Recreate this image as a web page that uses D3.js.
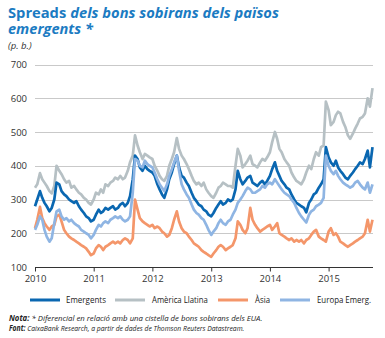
<!DOCTYPE html>
<html><head><meta charset="utf-8">
<script src="https://cdn.jsdelivr.net/npm/d3@7"></script>
<style>body{margin:0;background:#fff}svg{display:block}</style>
</head><body>
<svg id="c" width="385" height="338"></svg>
<script>
const dates = [
"2010-01-01","2010-01-15","2010-02-01","2010-02-15","2010-03-01","2010-03-15","2010-04-01","2010-04-15","2010-05-01","2010-05-15","2010-06-01","2010-06-15","2010-07-01","2010-07-15","2010-08-01","2010-08-15","2010-09-01","2010-09-15","2010-10-01","2010-10-15","2010-11-01","2010-11-15","2010-12-01","2010-12-15",
"2011-01-01","2011-01-15","2011-02-01","2011-02-15","2011-03-01","2011-03-15","2011-04-01","2011-04-15","2011-05-01","2011-05-15","2011-06-01","2011-06-15","2011-07-01","2011-07-15","2011-08-01","2011-08-15","2011-09-01","2011-09-15","2011-10-01","2011-10-15","2011-11-01","2011-11-15","2011-12-01","2011-12-15",
"2012-01-01","2012-01-15","2012-02-01","2012-02-15","2012-03-01","2012-03-15","2012-04-01","2012-04-15","2012-05-01","2012-05-15","2012-06-01","2012-06-15","2012-07-01","2012-07-15","2012-08-01","2012-08-15","2012-09-01","2012-09-15","2012-10-01","2012-10-15","2012-11-01","2012-11-15","2012-12-01","2012-12-15",
"2013-01-01","2013-01-15","2013-02-01","2013-02-15","2013-03-01","2013-03-15","2013-04-01","2013-04-15","2013-05-01","2013-05-15","2013-06-01","2013-06-15","2013-07-01","2013-07-15","2013-08-01","2013-08-15","2013-09-01","2013-09-15","2013-10-01","2013-10-15","2013-11-01","2013-11-15","2013-12-01","2013-12-15",
"2014-01-01","2014-01-15","2014-02-01","2014-02-15","2014-03-01","2014-03-15","2014-04-01","2014-04-15","2014-05-01","2014-05-15","2014-06-01","2014-06-15","2014-07-01","2014-07-15","2014-08-01","2014-08-15","2014-09-01","2014-09-15","2014-10-01","2014-10-15","2014-11-01","2014-11-15","2014-12-01","2014-12-15",
"2015-01-01","2015-01-15","2015-02-01","2015-02-15","2015-03-01","2015-03-15","2015-04-01","2015-04-15","2015-05-01","2015-05-15","2015-06-01","2015-06-15","2015-07-01","2015-07-15","2015-08-01","2015-08-15","2015-09-01","2015-09-15","2015-10-01"
];

const emergents = [
280,300, 325,305, 290,280, 265,275, 300,350, 345,325, 315,310, 300,295, 290,295, 280,270, 260,250, 245,235,
240,255, 270,260, 265,275, 270,275, 280,270, 275,285, 290,280, 290,310, 360,430, 420,395, 385,400, 390,385,
380,370, 345,330, 315,305, 330,360, 380,405, 430,395, 370,365, 350,340, 320,305, 295,285, 280,270, 265,255,
250,260, 275,285, 295,285, 290,300, 295,300, 330,385, 360,345, 355,365, 370,350, 345,340, 350,355, 345,355,
370,390, 410,385, 370,355, 345,335, 330,315, 300,290, 285,280, 275,262, 290,300, 315,320, 335,345, 360,455,
425,410, 400,415, 395,385, 375,365, 360,370, 380,390, 400,410, 405,420, 445,395, 455
];

const americaLlatina = [
335,345, 378,360, 350,340, 325,318, 340,400, 385,375, 360,350, 355,335, 340,330, 320,315, 305,300, 290,285,
300,320, 315,330, 320,345, 340,350, 355,365, 360,370, 360,365, 385,410, 430,490, 460,440, 420,435, 430,425,
420,400, 385,370, 360,355, 370,400, 420,440, 482,450, 430,420, 405,390, 370,355, 345,350, 340,350, 330,320,
310,305, 320,335, 340,350, 345,340, 340,335, 400,450, 430,395, 405,415, 430,405, 400,395, 410,420, 415,425,
440,470, 500,480, 450,440, 420,410, 400,380, 365,355, 350,345, 360,380, 400,390, 420,440, 430,455, 460,590,
565,520, 530,550, 560,555, 530,515, 490,480, 495,510, 525,540, 545,555, 600,575, 630
];

const asia = [
215,240, 278,245, 230,220, 210,220, 225,250, 255,235, 210,200, 190,185, 180,175, 170,165, 160,155, 145,135,
140,155, 165,160, 150,160, 165,170, 175,170, 175,170, 180,185, 180,170, 185,300, 270,245, 235,230, 225,220,
225,215, 220,215, 205,200, 190,195, 215,240, 265,235, 215,205, 200,190, 180,170, 165,160, 150,145, 140,135,
130,140, 150,160, 165,160, 150,155, 160,165, 185,235, 225,210, 200,215, 275,240, 225,215, 205,210, 215,220,
225,210, 220,230, 200,195, 190,185, 180,185, 175,180, 175,180, 170,180, 185,195, 205,210, 190,185, 180,175,
205,215, 195,200, 190,175, 170,165, 160,165, 170,175, 180,185, 190,200, 240,205, 240
];

const europaEmerg = [
210,225, 250,240, 210,190, 175,185, 230,265, 270,250, 240,245, 235,240, 230,225, 220,210, 205,200, 195,185,
195,210, 225,220, 230,235, 230,240, 245,250, 245,250, 240,235, 240,250, 320,420, 415,400, 395,415, 405,400,
395,380, 360,345, 335,325, 345,370, 390,410, 430,385, 345,330, 315,305, 285,270, 260,255, 245,240, 225,210,
195,205, 215,230, 240,230, 225,235, 240,255, 270,290, 300,310, 325,335, 330,320, 320,325, 330,340, 335,345,
350,345, 360,350, 340,330, 320,315, 310,300, 290,275, 260,250, 240,232, 255,265, 270,280, 285,290, 305,430,
400,385, 375,385, 370,360, 350,345, 340,335, 340,350, 355,345, 335,330, 350,320, 345
];

const seriesNames = ["Emergents","Amèrica Llatina","Àsia","Europa Emerg."];
const seriesColors = ["#0a67b1","#b6c0c4","#f4966a","#8fb5e3"];
const seriesData = [emergents, americaLlatina, asia, europaEmerg];
const yTicks = [100,200,300,400,500,600,700];
const xTickYears = ["2010","2011","2012","2013","2014","2015"];

const svg = d3.select("#c");
const parse = d3.utcParse("%Y-%m-%d");
const t = dates.map(parse);
const FF = "'Open Sans', sans-serif";

const x = d3.scaleUtc().domain([parse("2010-01-01"), parse("2015-10-01")]).range([35, 372.5]);
const y = d3.scaleLinear().domain([100,700]).range([267, 64.5]);

function fitText(sel, x0, y0, w) {
  const len = sel.node().getComputedTextLength();
  const s = w / len;
  sel.attr("x",0).attr("y",0).attr("transform",`translate(${x0},${y0}) scale(${s},1)`);
}

// Title (two separate text pieces on line 1)
const title = svg.append("g").attr("fill","#1b7bc2").attr("font-family",FF).attr("font-weight","bold").attr("font-size","14.5px");
const ta = title.append("text").text("Spreads");
const tb = title.append("text").attr("font-style","italic").text("dels bons sobirans dels països");
const wa = ta.node().getComputedTextLength(), wb = tb.node().getComputedTextLength();
const gap = 4;
const sT = (271 - gap) / (wa + wb);
ta.attr("transform",`translate(8,18) scale(${sT},1)`);
tb.attr("transform",`translate(${8 + wa*sT + gap},18) scale(${sT},1)`);
const t2 = title.append("text").attr("font-style","italic").text("emergents *");
fitText(t2, 8, 33.5, 85);
svg.append("text").attr("x",8).attr("y",49).attr("font-family",FF).attr("font-style","italic").attr("font-size","9.5px").attr("fill","#333").text("(p. b.)");

// Gridlines
svg.append("g").selectAll("line").data(yTicks.filter(d=>d>100)).join("line")
  .attr("x1",35).attr("x2",373).attr("y1",d=>Math.round(y(d))+0.5).attr("y2",d=>Math.round(y(d))+0.5)
  .attr("stroke","#c9c9c9").attr("stroke-width",1);

// Y labels
svg.append("g").selectAll("text").data(yTicks).join("text")
  .attr("x",27).attr("y",d=>y(d)+3.5).attr("text-anchor","end")
  .attr("font-family",FF).attr("font-size","9.5px").attr("fill","#333").text(d=>d);

// Lines
const line = d3.line().x((d,i)=>x(t[i])).y(d=>y(d));
const order = [1,0,2,3];
svg.append("g").selectAll("path").data(order).join("path")
  .attr("d",i=>line(seriesData[i])).attr("fill","none")
  .attr("stroke",i=>seriesColors[i]).attr("stroke-width",2.7).attr("stroke-linejoin","round");

// X axis
const xAxis = d3.axisBottom(x).tickValues(xTickYears.map(s=>parse(s+"-01-01"))).tickSize(4).tickFormat(d3.utcFormat("%Y"));
const ax = svg.append("g").attr("transform","translate(0,267.5)").call(xAxis);
ax.select(".domain").attr("d","M35,0H373").attr("stroke","#333");
ax.selectAll(".tick line").attr("stroke","#333");
ax.selectAll(".tick text").attr("font-family",FF).attr("font-size","9.5px").attr("fill","#333").attr("dy","0.75em").attr("y",7);

// Legend
const legLineX = [30,115,218,280];
const legTextX = [66,152,255,317];
const legTextW = [40,56,15,54];
const lg = svg.append("g");
seriesNames.forEach((n,i)=>{
  lg.append("line").attr("x1",legLineX[i]).attr("x2",legLineX[i]+30).attr("y1",300).attr("y2",300).attr("stroke",seriesColors[i]).attr("stroke-width",3);
  const tx = lg.append("text").attr("font-family",FF).attr("font-size","9.5px").attr("fill","#222").text(n);
  fitText(tx, legTextX[i], 303, legTextW[i]);
});

// Notes
const notes = svg.append("g").attr("font-family",FF).attr("font-size","8px").attr("fill","#222").attr("font-style","italic");
const n1 = notes.append("text");
n1.append("tspan").attr("font-weight","bold").text("Nota: ");
n1.append("tspan").text("* Diferencial en relació amb una cistella de bons sobirans dels EUA.");
fitText(n1, 9, 321, 254);
const n2 = notes.append("text");
n2.append("tspan").attr("font-weight","bold").text("Font: ");
n2.append("tspan").text("CaixaBank Research, a partir de dades de Thomson Reuters Datastream.");
fitText(n2, 9, 331, 236);
</script>
</body></html>
